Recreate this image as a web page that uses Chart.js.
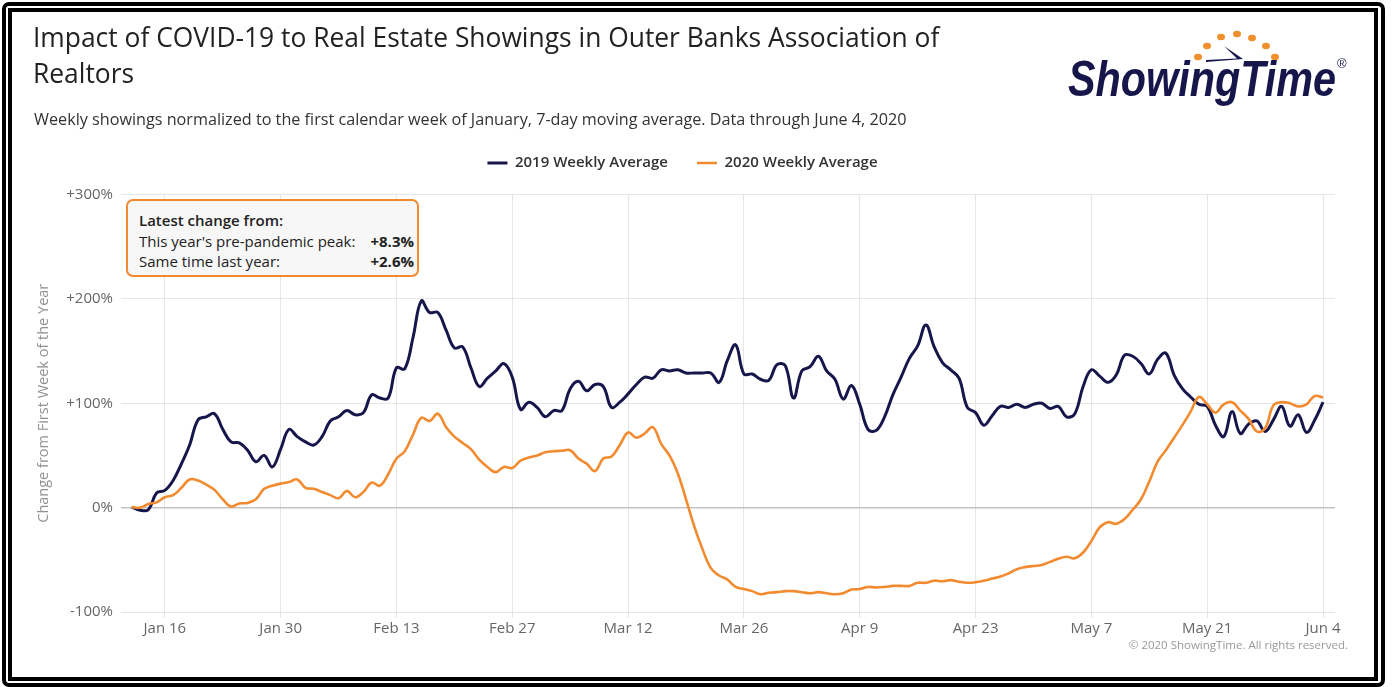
<!DOCTYPE html>
<html>
<head>
<meta charset="utf-8">
<script src="https://cdn.jsdelivr.net/npm/chart.js@4.4.1/dist/chart.umd.min.js"></script>
<style>
html,body{margin:0;padding:0;background:#fff;}
body{width:1393px;height:687px;position:relative;overflow:hidden;font-family:'Open Sans',sans-serif;}
#frameOuter{position:absolute;left:2px;top:2px;width:1383px;height:685px;box-sizing:border-box;border:4px solid #000;border-radius:7px;}
#frameInner{position:absolute;left:8px;top:8px;width:1370px;height:673px;box-sizing:border-box;border:4px solid #000;}
#chart{position:absolute;left:0;top:0;}
#title{position:absolute;left:33px;top:19px;width:960px;font-size:26.4px;line-height:36px;color:#222;}
#subtitle{position:absolute;left:34px;top:108px;font-size:16.2px;line-height:22px;color:#333;white-space:nowrap;}
#infoBox{position:absolute;left:126px;top:199px;width:293px;height:78px;box-sizing:border-box;border:2px solid #f0892f;border-radius:7px;background:#f7f7f7;font-size:15px;line-height:20px;color:#222;}
#infoBox .l{position:absolute;left:11px;white-space:nowrap;}
#infoBox .r{position:absolute;right:3px;white-space:nowrap;font-weight:700;}
#copy{position:absolute;right:45px;top:637px;font-size:11.5px;line-height:16px;color:#999;white-space:nowrap;}
#logo{position:absolute;left:1040px;top:15px;}
</style>
</head>
<body>
<div id="frameOuter"></div>
<div id="frameInner"></div>
<canvas id="chart" width="1393" height="687"></canvas>
<div id="title">Impact of COVID-19 to Real Estate Showings in Outer Banks Association of Realtors</div>
<div id="subtitle">Weekly showings normalized to the first calendar week of January, 7-day moving average. Data through June 4, 2020</div>
<div id="infoBox">
  <div class="l" style="top:9px;font-weight:600;">Latest change from:</div>
  <div class="l" style="top:30px;">This year's pre-pandemic peak:</div>
  <div class="r" style="top:30px;">+8.3%</div>
  <div class="l" style="top:50px;">Same time last year:</div>
  <div class="r" style="top:50px;">+2.6%</div>
</div>
<div id="copy">© 2020 ShowingTime. All rights reserved.</div>
<svg id="logo" width="330" height="100" viewBox="1040 15 330 100">
  <g fill="#f0902c">
    <ellipse cx="1198" cy="57" rx="4" ry="3.2"/>
    <ellipse cx="1207" cy="46" rx="4" ry="3.2"/>
    <ellipse cx="1221" cy="37" rx="4" ry="3.2"/>
    <ellipse cx="1237" cy="34" rx="4" ry="3.2"/>
    <ellipse cx="1252" cy="38" rx="4" ry="3.2"/>
    <ellipse cx="1266" cy="46" rx="4" ry="3.2"/>
    <ellipse cx="1275" cy="57" rx="4" ry="3.2"/>
  </g>
  <path d="M1224 46 L1243 59 L1206 62 L1206 60 L1237 58.5 Z" fill="#16164b"/>
  <text x="1068" y="96" font-family="Liberation Sans, Arial, sans-serif" font-weight="bold" font-style="italic" font-size="50" textLength="268" lengthAdjust="spacingAndGlyphs" fill="#16164b">ShowingTime</text>
  <text x="1337" y="68" font-family="Liberation Sans, Arial, sans-serif" font-size="13" fill="#16164b">®</text>
</svg>
<script>
// Day index: 0 = Jan 1, 2020. Series start on Jan 12 (day 11), daily through Jun 4 (day 155).
const firstDay = 11;
const seriesNames = ['2019 Weekly Average', '2020 Weekly Average'];
const values2019 = [
  0.5, -2.5, -2, 14, 16.5, 26, 42, 60, 84, 87,
  90, 75, 63, 62, 55, 44, 50, 39, 56, 75,
  68, 63, 60, 68, 83, 87, 93, 89, 91, 108,
  105, 105, 134, 133, 163, 198, 187, 187, 170, 153,
  154, 134, 116, 124, 131, 138, 125, 94, 101, 96,
  87, 93, 93, 114, 121, 112, 118, 116, 96, 101,
  109, 118, 125, 124, 132, 131, 132, 129, 129, 129,
  129, 120, 141, 156, 128, 128, 123, 122, 137, 136,
  105, 131, 135, 145, 131, 123, 104, 117, 99, 75,
  74, 87, 108, 125, 143, 155, 175, 154, 139, 132,
  124, 96, 91, 79, 88, 97, 96, 99, 96, 99,
  100, 95, 97, 87, 90, 116, 132, 126, 120, 127,
  146, 145, 138, 128, 142, 148, 127, 114, 106, 99,
  97, 79, 68, 92, 71, 80, 83, 73, 84, 97,
  78, 89, 72, 84, 101
];
const values2020 = [
  0.5, 0, 3.5, 5, 10, 12, 19, 27, 26, 22,
  17, 8, 1, 4, 4.5, 8, 18, 21, 23, 24.5,
  27, 19, 18, 15, 12, 9, 16, 10, 15, 24,
  21, 32, 47, 54, 70, 86, 83, 90, 77, 68,
  62, 56, 46, 39, 34, 39, 38, 45, 48, 50,
  53, 54, 54.5, 55, 47, 42, 35, 47, 49, 60,
  72, 67, 71, 77, 61, 50, 33, 8, -18, -40,
  -58, -65, -69, -76, -78, -80, -83, -81.5, -81, -80,
  -80, -81, -82, -81, -82, -83, -82, -78.5, -78, -76,
  -76.5, -76, -75, -75, -75, -72, -72, -70, -70.5, -69.5,
  -71, -72, -71.5, -70, -68, -66, -63, -59, -57, -56,
  -55, -52, -49, -47, -48.5, -43, -32, -19, -14, -15.5,
  -11, -2, 8, 25, 44, 55, 67, 79, 92, 106,
  99, 91, 99, 101, 93, 85, 73, 76, 98, 101,
  100, 97, 99, 107, 105.5
];
const days = values2019.map((_, i) => firstDay + i);
const xTickDays = [15, 29, 43, 57, 71, 85, 99, 113, 127, 141, 155];
const xTickLabels = ['Jan 16', 'Jan 30', 'Feb 13', 'Feb 27', 'Mar 12', 'Mar 26', 'Apr 9', 'Apr 23', 'May 7', 'May 21', 'Jun 4'];
const yTickValues = [-100, 0, 100, 200, 300];
const yTickLabels = ['-100%', '0%', '+100%', '+200%', '+300%'];

const toPoints = vals => vals.map((v, i) => ({x: days[i], y: v}));
const tickFont = {family: "'Open Sans', sans-serif", size: 15};

new Chart(document.getElementById('chart').getContext('2d'), {
  type: 'line',
  data: {
    datasets: [
      {label: seriesNames[0], data: toPoints(values2019), borderColor: '#16164b', backgroundColor: '#16164b',
       borderWidth: 3, pointRadius: 0, tension: 0.4, order: 1},
      {label: seriesNames[1], data: toPoints(values2020), borderColor: '#f28b30', backgroundColor: '#f28b30',
       borderWidth: 2.6, pointRadius: 0, tension: 0.4, order: 0}
    ]
  },
  options: {
    responsive: false,
    animation: false,
    layout: {padding: {left: 30, right: 58, top: 126.5, bottom: 35}},
    plugins: {
      legend: {
        display: true, position: 'top', align: 'center',
        labels: {
          usePointStyle: true, pointStyle: 'line', pointStyleWidth: 20, boxHeight: 15,
          padding: 29, color: '#333',
          font: {family: "'Open Sans', sans-serif", size: 15, weight: '600'},
          sort: (a, b) => a.datasetIndex - b.datasetIndex
        }
      },
      title: {display: true, text: '', weight: 500, padding: {top: 0, bottom: 4}, font: {size: 10, lineHeight: 1}},
      tooltip: {enabled: false}
    },
    scales: {
      x: {
        type: 'linear', min: 9.7, max: 156.45,
        afterBuildTicks: s => { s.ticks = xTickDays.map(v => ({value: v})); },
        afterFit: s => { s.height = 40; },
        ticks: {
          autoSkip: false, maxRotation: 0, padding: 2, color: '#666', font: tickFont,
          callback: v => { const i = xTickDays.indexOf(v); return i >= 0 ? xTickLabels[i] : ''; }
        },
        grid: {color: '#e6e6e6', lineWidth: 1, drawTicks: true, tickLength: 6},
        border: {display: false}
      },
      y: {
        min: -100, max: 300,
        afterBuildTicks: s => { s.ticks = yTickValues.map(v => ({value: v})); },
        afterFit: s => { s.width = 91; },
        ticks: {
          padding: 8, color: '#666', font: tickFont,
          callback: v => { const i = yTickValues.indexOf(v); return i >= 0 ? yTickLabels[i] : ''; }
        },
        grid: {
          color: c => (c.tick && c.tick.value === 0) ? '#c4c4c4' : '#e6e6e6',
          lineWidth: c => (c.tick && c.tick.value === 0) ? 1.5 : 1,
          drawTicks: false
        },
        border: {display: false},
        title: {display: true, text: 'Change from First Week of the Year', color: '#909090',
                font: {family: "'Open Sans', sans-serif", size: 14.5}, padding: {top: 5, bottom: 0}}
      }
    }
  }
});
</script>
</body>
</html>
